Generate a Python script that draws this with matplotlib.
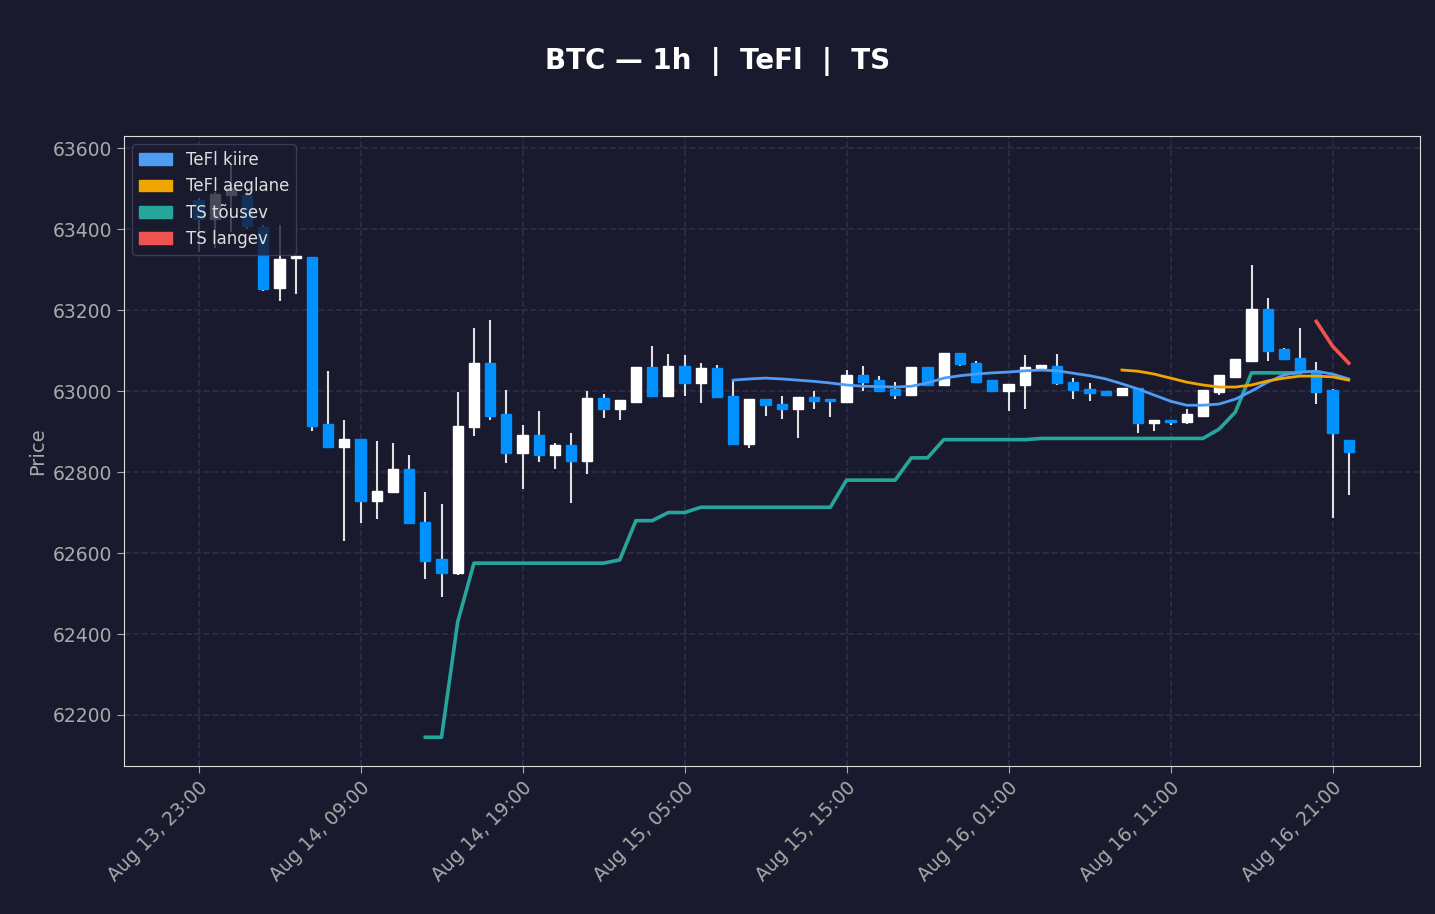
import matplotlib
matplotlib.use("Agg")
import matplotlib.pyplot as plt
from matplotlib.patches import Patch
import numpy as np

tick_labels = ["Aug 13, 23:00", "Aug 14, 09:00", "Aug 14, 19:00", "Aug 15, 05:00",
               "Aug 15, 15:00", "Aug 16, 01:00", "Aug 16, 11:00", "Aug 16, 21:00"]

opens = [63472, 63425, 63484, 63484, 63405, 63255, 63328, 63330, 62919, 62862,
         62882, 62728, 62751, 62807, 62677, 62585, 62551, 62911, 63069, 62943,
         62847, 62891, 62842, 62867, 62827, 62983, 62956, 62973, 63059, 62988,
         63062, 63020, 63057, 62988, 62869, 62980, 62968, 62956, 62985, 62980,
         62973, 63039, 63027, 63005, 62990, 63059, 63015, 63094, 63069, 63027,
         63000, 63015, 63057, 63062, 63022, 63005, 63000, 62990, 63007, 62921,
         62928, 62923, 62938, 62998, 63035, 63074, 63202, 63104, 63081, 63049,
         63002, 62879]
closes = [63425, 63486, 63501, 63407, 63252, 63326, 63334, 62914, 62862, 62882,
          62728, 62753, 62807, 62674, 62580, 62551, 62914, 63069, 62938, 62847,
          62891, 62842, 62867, 62827, 62983, 62956, 62978, 63059, 62988, 63062,
          63020, 63057, 62985, 62869, 62980, 62965, 62956, 62985, 62975, 62975,
          63039, 63022, 63000, 62990, 63059, 63015, 63094, 63067, 63022, 63000,
          63017, 63059, 63064, 63020, 63002, 62995, 62990, 63007, 62921, 62928,
          62923, 62943, 63002, 63039, 63079, 63202, 63099, 63079, 63047, 62998,
          62896, 62849]
highs = [63477, 63491, 63558, 63501, 63410, 63410, 63334, 63330, 63050, 62928,
         62882, 62877, 62872, 62842, 62751, 62721, 62998, 63156, 63175, 63002,
         62916, 62951, 62872, 62896, 63000, 62993, 62978, 63059, 63111, 63091,
         63089, 63069, 63064, 63027, 62980, 62980, 62988, 62985, 63000, 62980,
         63052, 63062, 63037, 63022, 63059, 63059, 63094, 63094, 63074, 63027,
         63017, 63089, 63064, 63091, 63032, 63020, 63000, 63007, 63007, 62928,
         62928, 62956, 63002, 63039, 63079, 63311, 63230, 63106, 63156, 63072,
         63005, 62879]
lows = [63343, 63353, 63393, 63400, 63247, 63222, 63240, 62901, 62860, 62630,
        62674, 62684, 62749, 62672, 62536, 62491, 62546, 62889, 62928, 62822,
        62758, 62825, 62807, 62723, 62795, 62933, 62928, 62973, 62988, 62988,
        62988, 62970, 62985, 62869, 62859, 62938, 62931, 62884, 62956, 62936,
        62970, 63000, 63000, 62980, 62990, 63015, 63015, 63062, 63022, 63000,
        62951, 62956, 63052, 63015, 62980, 62975, 62990, 62990, 62896, 62901,
        62916, 62918, 62938, 62990, 63035, 63074, 63074, 63079, 63047, 62968,
        62686, 62743]

ts_up = [None]*14 + [62145, 62145, 62430, 62575, 62575, 62575, 62575, 62575, 62575,
         62575, 62575, 62575, 62583, 62680, 62680, 62700, 62700, 62713, 62713,
         62713, 62713, 62713, 62713, 62713, 62713, 62713, 62780, 62780, 62780, 62780, 62835,
         62835, 62880, 62880, 62880, 62880, 62880, 62880, 62883, 62883, 62883, 62883,
         62883, 62883, 62883, 62883, 62883, 62883, 62883, 62906, 62948, 63045, 63045,
         63045, 63045] + [None]*3
ts_down = [None]*69 + [63172, 63111, 63069]
tefl_fast = [None]*33 + [63027, 63030, 63032, 63030, 63027, 63024, 63020, 63015, 63012,
             63011, 63010, 63012, 63020, 63032, 63038, 63042, 63045, 63047, 63050,
             63052, 63050, 63044, 63038, 63030, 63018, 63005, 62990, 62975, 62965, 62965,
             62968, 62980, 63000, 63022, 63040, 63047, 63049, 63042, 63030]
tefl_slow = [None]*57 + [63052, 63049, 63042, 63032, 63022, 63015, 63010, 63010,
             63015, 63025, 63032, 63037, 63037, 63035, 63027]

BG = "#1a1a2e"
UP = "#ffffff"
DOWN = "#0090ff"

fig = plt.figure(figsize=(14.35, 9.14), dpi=100, facecolor=BG)
ax = fig.add_axes([124/1435, 1-766/914, (1420-124)/1435, (766-136)/914], facecolor=BG)

x = np.arange(len(opens))
for i in x:
    o, c, h, l = opens[i], closes[i], highs[i], lows[i]
    col = UP if c >= o else DOWN
    ax.vlines(i, l, h, color="#e0e0e0", linewidth=1.5, zorder=2)
    ax.bar(i, max(abs(c-o), 2), bottom=min(o, c), width=0.62, color=col,
           edgecolor=col, zorder=3)

def series(vals):
    return np.array([np.nan if v is None else v for v in vals], dtype=float)

ax.plot(x, series(ts_up), color="#26a69a", linewidth=2.6, zorder=4)
ax.plot(x, series(ts_down), color="#ef5350", linewidth=2.6, zorder=4)
ax.plot(x, series(tefl_fast), color="#4f9cf5", linewidth=2.0, zorder=4)
ax.plot(x, series(tefl_slow), color="#f0a500", linewidth=2.0, zorder=4)

ax.set_xlim(-4.6, 75.4)
ax.set_ylim(62074, 63630)
ax.set_xticks(np.arange(0, 80, 10))
ax.set_xticklabels(tick_labels, rotation=45, ha="right", rotation_mode="anchor")
ax.set_yticks(np.arange(62200, 63601, 200))
ax.tick_params(colors="#aaaaaa", labelsize=13.5, length=5)
for s in ax.spines.values():
    s.set_color("#dddddd")
ax.grid(True, color="#2e2e4a", linestyle="--", linewidth=1.2)
ax.set_axisbelow(True)
ax.set_ylabel("Price", color="#aaaaaa", fontsize=14)

handles = [Patch(color="#4f9cf5", label="TeFl kiire"),
           Patch(color="#f0a500", label="TeFl aeglane"),
           Patch(color="#26a69a", label="TS tõusev"),
           Patch(color="#ef5350", label="TS langev")]
leg = ax.legend(handles=handles, loc="upper left", fontsize=12, facecolor=BG,
                edgecolor="#44445e", framealpha=0.8, labelcolor="#dddddd")
leg.set_zorder(10)

fig.text(0.5, 1-62/914, "BTC — 1h  |  TeFl  |  TS", ha="center", va="center",
         color="white", fontsize=20, fontweight="bold")

fig.savefig("out.png", dpi=100, facecolor=BG)
